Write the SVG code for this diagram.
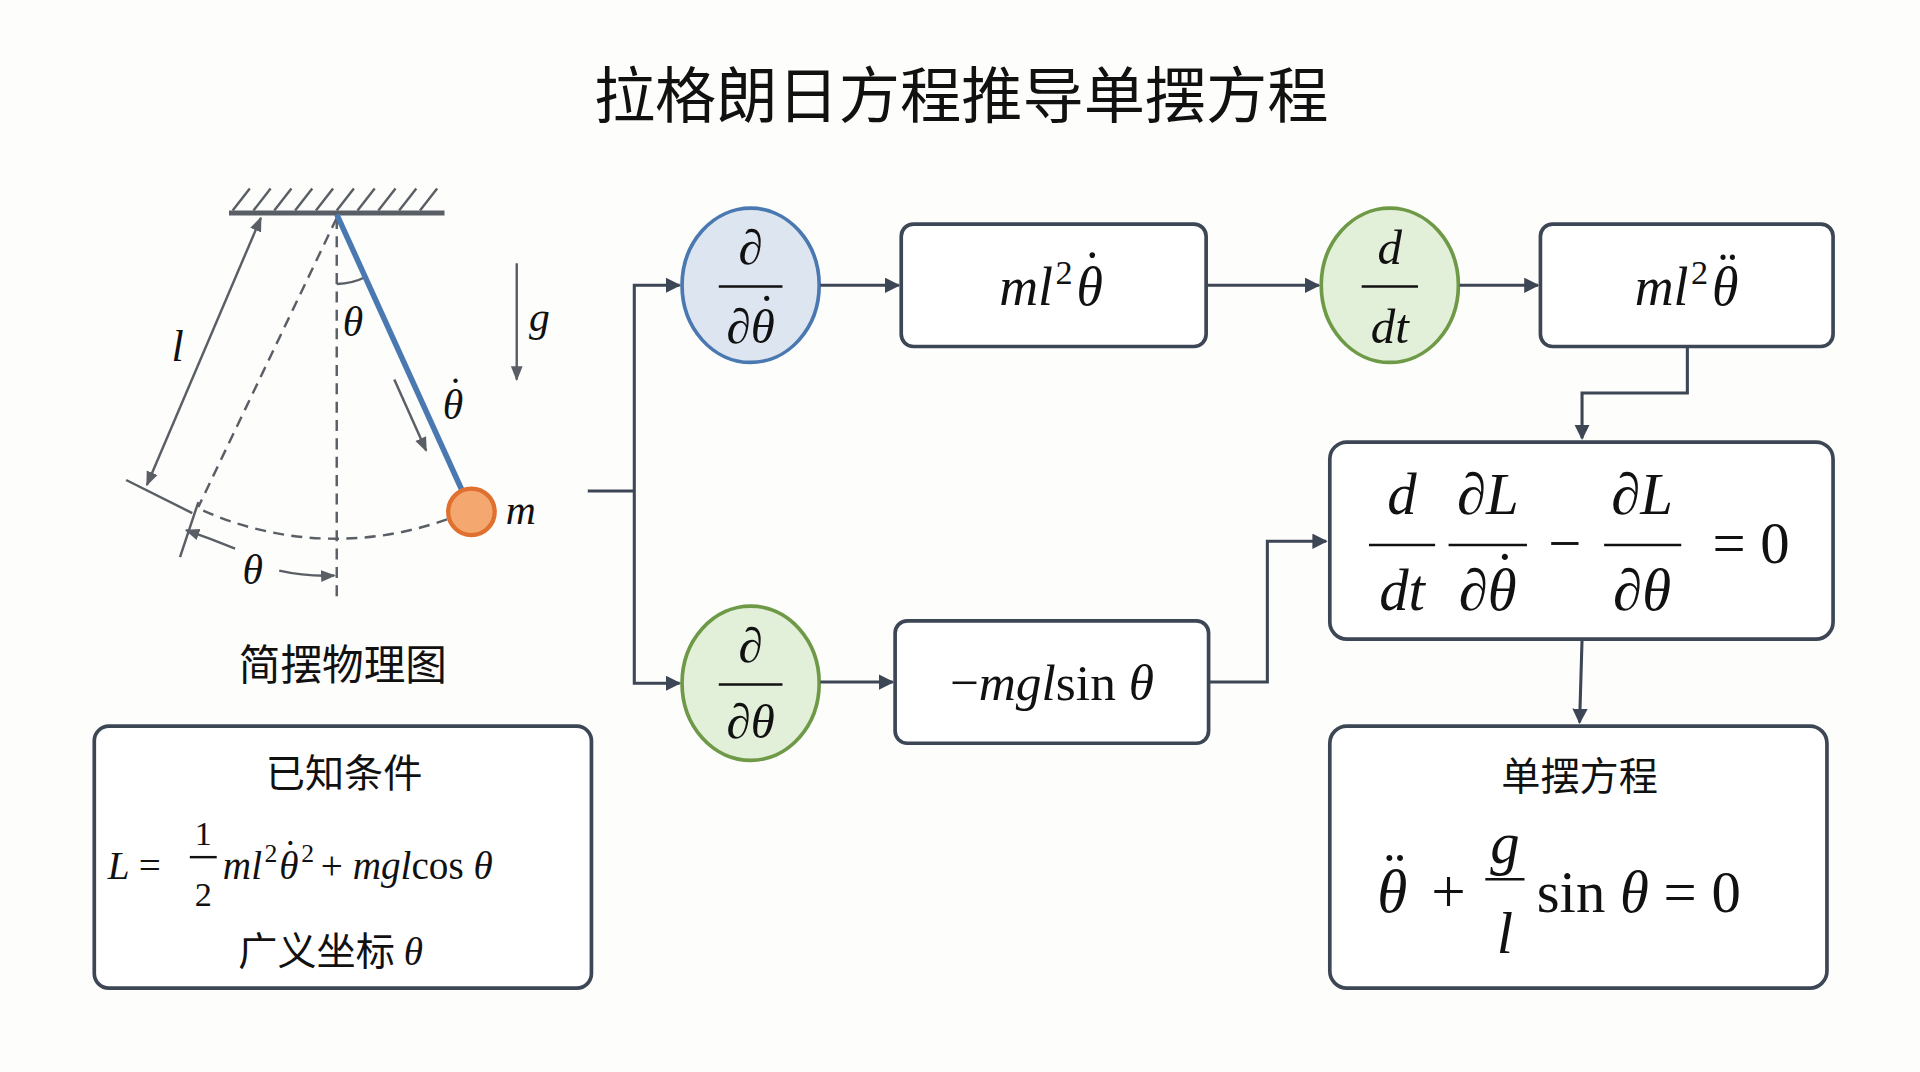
<svg xmlns="http://www.w3.org/2000/svg" width="1920" height="1072" viewBox="0 0 1920 1072">
<defs>
<marker id="ah" viewBox="0 0 10 10" refX="9" refY="5" markerWidth="5" markerHeight="5" orient="auto"><path d="M0,0 L10,5 L0,10 z" fill="#3c4655"/></marker>
<marker id="ag" viewBox="0 0 10 10" refX="9" refY="5" markerWidth="6" markerHeight="6" orient="auto"><path d="M0,1 L10,5 L0,9 z" fill="#5a5f66"/></marker>
<marker id="ag2" viewBox="0 0 10 10" refX="9" refY="5" markerWidth="6" markerHeight="6" orient="auto-start-reverse"><path d="M0,1 L10,5 L0,9 z" fill="#5a5f66"/></marker>
</defs>
<style>
.m{font-family:"Liberation Serif","DejaVu Serif",serif;font-style:italic;fill:#111}
.r{font-family:"Liberation Serif","DejaVu Serif",serif;font-style:normal;fill:#111}
.cn{font-family:"Noto Sans CJK SC",sans-serif;fill:#111}
.box{fill:#fff;stroke:#3c4655;stroke-width:3}
.con{fill:none;stroke:#3c4655;stroke-width:2.5}
.g{fill:none;stroke:#5a5f66;stroke-width:2}
.d{fill:none;stroke:#5a5f66;stroke-width:2;stroke-dasharray:9 6}
.fl{stroke:#111;stroke-width:2}
</style>
<rect width="1920" height="1072" fill="#fdfdfb"/>
<g transform="scale(1.2245)">
<text x="785" y="96" class="cn" font-size="50" text-anchor="middle">拉格朗日方程推导单摆方程</text>

<g id="pendulum">
<line x1="187" y1="174" x2="363" y2="174" stroke="#5a5f66" stroke-width="4"/>
<path class="g" d="M190,172 l14,-18 M207,172 l14,-18 M224,172 l14,-18 M241,172 l14,-18 M258,172 l14,-18 M275,172 l14,-18 M292,172 l14,-18 M309,172 l14,-18 M326,172 l14,-18 M343,172 l14,-18"/>
<line class="d" x1="275" y1="178" x2="275" y2="488"/>
<line class="d" x1="275" y1="178" x2="162" y2="414"/>
<path class="d" d="M166,417 A267 267 0 0 0 368,423"/>
<path class="g" d="M275,232 A58 58 0 0 0 299,226"/>
<line x1="275" y1="175" x2="378" y2="402" stroke="#4a78b0" stroke-width="4.5"/>
<circle cx="385" cy="418" r="19" fill="#f4a870" stroke="#e07030" stroke-width="3.5"/>
<text x="413" y="428" class="m" font-size="34">m</text>
<line class="g" x1="213" y1="178" x2="120" y2="396" marker-start="url(#ag2)" marker-end="url(#ag2)"/>
<line class="g" x1="103" y1="392" x2="157" y2="419"/>
<line class="g" x1="147" y1="455" x2="162" y2="410"/>
<text x="140" y="295" class="m" font-size="36">l</text>
<text x="280" y="274" class="m" font-size="34">θ</text>
<line class="g" x1="422" y1="215" x2="422" y2="310" marker-end="url(#ag)"/>
<text x="432" y="270" class="m" font-size="34">g</text>
<line class="g" x1="322" y1="310" x2="348" y2="368" marker-end="url(#ag)"/>
<text x="370" y="342" class="m" font-size="34" text-anchor="middle">θ</text>
<text x="372" y="332" class="r" font-size="34" text-anchor="middle">˙</text>
<path class="g" d="M192,448 Q172,440 152,433" marker-end="url(#ag)"/>
<path class="g" d="M228,466 Q250,471 273,470" marker-end="url(#ag)"/>
<text x="198" y="477" class="m" font-size="34">θ</text>
<text x="280" y="555" class="cn" font-size="34" text-anchor="middle">简摆物理图</text>
</g>

<g id="known">
<rect class="box" x="77" y="593" width="406" height="214" rx="12"/>
<text x="281" y="643" class="cn" font-size="32" text-anchor="middle">已知条件</text>
<text x="88" y="718" class="m" font-size="32">L <tspan class="r">=</tspan></text>
<text x="166" y="690" class="r" font-size="28" text-anchor="middle">1</text>
<line class="fl" x1="155" y1="700" x2="177" y2="700"/>
<text x="166" y="740" class="r" font-size="28" text-anchor="middle">2</text>
<text x="182" y="718" class="m" font-size="32">ml</text>
<text x="216" y="704" class="r" font-size="21">2</text>
<text x="236" y="718" class="m" font-size="32" text-anchor="middle">θ</text>
<text x="237" y="708" class="r" font-size="32" text-anchor="middle">˙</text>
<text x="246" y="704" class="r" font-size="21">2</text>
<text x="262" y="718" class="r" font-size="32">+ <tspan class="m">mgl</tspan>cos <tspan class="m">θ</tspan></text>
<text x="270" y="788" class="cn" font-size="32" text-anchor="middle">广义坐标 <tspan class="m">θ</tspan></text>
</g>

<g id="dthetadot">
<ellipse cx="613" cy="233" rx="56" ry="63" fill="#dde5f0" stroke="#4a78b0" stroke-width="3"/>
<text x="613" y="216" class="m" font-size="40" text-anchor="middle">∂</text>
<line class="fl" x1="587" y1="234" x2="639" y2="234"/>
<text x="613" y="280" class="m" font-size="40" text-anchor="middle">∂θ</text>
<text x="626" y="268" class="r" font-size="40" text-anchor="middle">˙</text>
</g>
<g id="b1">
<rect class="box" x="736" y="183" width="249" height="100" rx="10"/>
<text x="860" y="249" class="m" font-size="44" text-anchor="end">ml</text>
<text x="862" y="232" class="r" font-size="28">2</text>
<text x="890" y="249" class="m" font-size="44" text-anchor="middle">θ</text>
<text x="892" y="236" class="r" font-size="44" text-anchor="middle">˙</text>
</g>
<g id="ddt">
<ellipse cx="1135" cy="233" rx="56" ry="63" fill="#e2efd9" stroke="#6e9a48" stroke-width="3"/>
<text x="1135" y="216" class="m" font-size="40" text-anchor="middle">d</text>
<line class="fl" x1="1112" y1="234" x2="1158" y2="234"/>
<text x="1135" y="280" class="m" font-size="40" text-anchor="middle">dt</text>
</g>
<g id="b2">
<rect class="box" x="1258" y="183" width="239" height="100" rx="10"/>
<text x="1379" y="249" class="m" font-size="44" text-anchor="end">ml</text>
<text x="1381" y="232" class="r" font-size="28">2</text>
<text x="1409" y="249" class="m" font-size="44" text-anchor="middle">θ</text>
<text x="1411" y="236" class="r" font-size="44" text-anchor="middle">¨</text>
</g>
<g id="dtheta">
<ellipse cx="613" cy="558" rx="56" ry="63" fill="#e2efd9" stroke="#6e9a48" stroke-width="3"/>
<text x="613" y="541" class="m" font-size="40" text-anchor="middle">∂</text>
<line class="fl" x1="587" y1="559" x2="639" y2="559"/>
<text x="613" y="603" class="m" font-size="40" text-anchor="middle">∂θ</text>
</g>
<g id="b3">
<rect class="box" x="731" y="507" width="256" height="100" rx="10"/>
<text x="859" y="572" class="m" font-size="42" text-anchor="middle"><tspan class="r">−</tspan>mgl<tspan class="r">sin </tspan>θ</text>
</g>
<g id="el">
<rect class="box" x="1086" y="361" width="411" height="161" rx="14"/>
<text x="1145" y="420" class="m" font-size="48" text-anchor="middle">d</text>
<line class="fl" x1="1118" y1="445" x2="1172" y2="445"/>
<text x="1145" y="498" class="m" font-size="48" text-anchor="middle">dt</text>
<text x="1215" y="420" class="m" font-size="48" text-anchor="middle">∂L</text>
<line class="fl" x1="1183" y1="445" x2="1247" y2="445"/>
<text x="1215" y="498" class="m" font-size="48" text-anchor="middle">∂θ</text>
<text x="1229" y="484" class="r" font-size="48" text-anchor="middle">˙</text>
<text x="1278" y="460" class="r" font-size="48" text-anchor="middle">−</text>
<text x="1341" y="420" class="m" font-size="48" text-anchor="middle">∂L</text>
<line class="fl" x1="1310" y1="445" x2="1373" y2="445"/>
<text x="1341" y="498" class="m" font-size="48" text-anchor="middle">∂θ</text>
<text x="1430" y="460" class="r" font-size="48" text-anchor="middle">= 0</text>
</g>
<g id="result">
<rect class="box" x="1086" y="593" width="406" height="214" rx="14"/>
<text x="1290" y="645" class="cn" font-size="32" text-anchor="middle">单摆方程</text>
<text x="1137" y="745" class="m" font-size="50" text-anchor="middle">θ</text>
<text x="1139" y="730" class="r" font-size="50" text-anchor="middle">¨</text>
<text x="1183" y="745" class="r" font-size="50" text-anchor="middle">+</text>
<text x="1229" y="705" class="m" font-size="48" text-anchor="middle">g</text>
<line class="fl" x1="1213" y1="718" x2="1245" y2="718"/>
<text x="1229" y="778" class="m" font-size="48" text-anchor="middle">l</text>
<text x="1255" y="745" class="r" font-size="48">sin <tspan class="m">θ</tspan> = 0</text>
</g>

<g id="connectors">
<polyline class="con" points="480,401 518,401"/>
<polyline class="con" points="518,401 518,233 555,233" marker-end="url(#ah)"/>
<polyline class="con" points="518,401 518,558 555,558" marker-end="url(#ah)"/>
<line class="con" x1="670" y1="233" x2="734" y2="233" marker-end="url(#ah)"/>
<line class="con" x1="985" y1="233" x2="1077" y2="233" marker-end="url(#ah)"/>
<line class="con" x1="1192" y1="233" x2="1256" y2="233" marker-end="url(#ah)"/>
<polyline class="con" points="1378,283 1378,321 1292,321 1292,358" marker-end="url(#ah)"/>
<line class="con" x1="670" y1="557" x2="729" y2="557" marker-end="url(#ah)"/>
<polyline class="con" points="987,557 1035,557 1035,442 1083,442" marker-end="url(#ah)"/>
<line class="con" x1="1292" y1="522" x2="1290" y2="590" marker-end="url(#ah)"/>
</g>
</g>
</svg>
